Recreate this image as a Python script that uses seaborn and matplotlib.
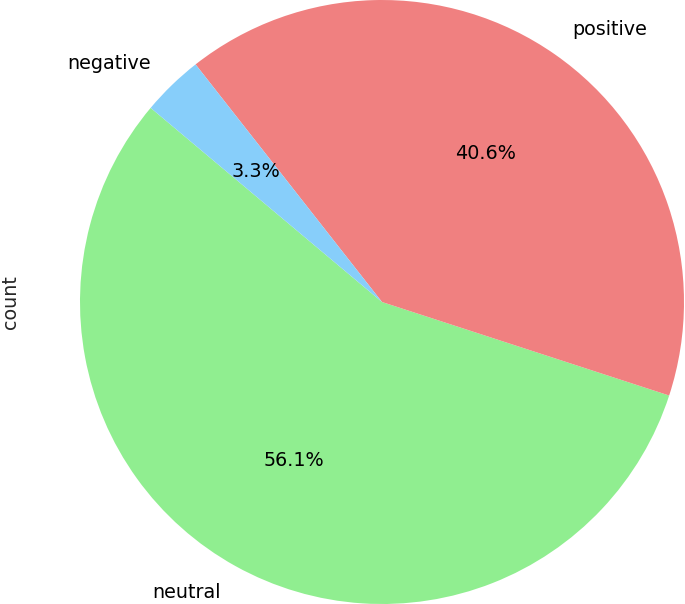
import matplotlib
matplotlib.use("Agg")
import matplotlib.pyplot as plt
import pandas as pd
import seaborn as sns

sns.set_theme(style="white")
plt.rcParams["font.family"] = ["DejaVu Sans"]

# sentiment counts (in value_counts order)
labels = ["neutral", "positive", "negative"]
shares = [56.1, 40.6, 3.3]
colors = ["lightgreen", "lightcoral", "lightskyblue"]

df = pd.DataFrame({"count": shares}, index=labels)

fig = plt.figure(figsize=(6.85, 6.04), dpi=100)
ax = fig.add_axes([4.5 / 685, -75.5 / 604, 755 / 685, 755 / 604])

ax.pie(
    df["count"],
    labels=df.index,
    colors=colors,
    autopct="%1.1f%%",
    startangle=140,
    wedgeprops={"linewidth": 0},
    textprops={"fontsize": 13.8, "color": "black"},
)
ax.set_xlim(-1.25, 1.25)
ax.set_ylim(-1.25, 1.25)
ax.set_ylabel("count", fontsize=13.8)
ax.yaxis.set_label_coords((20 - 4.5) / 755, 0.5)

fig.savefig("out.png", dpi=100)
